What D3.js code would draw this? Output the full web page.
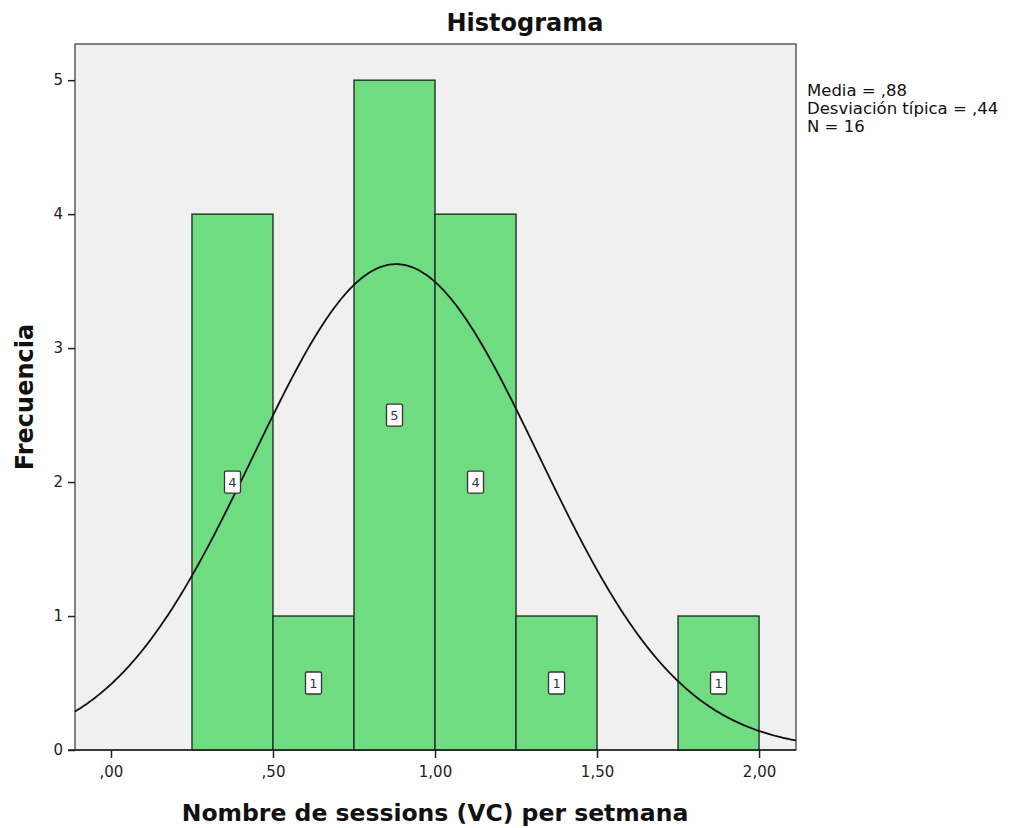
<!DOCTYPE html>
<html>
<head>
<meta charset="utf-8">
<script src="https://cdn.jsdelivr.net/npm/d3@7"></script>
<style>
  body { margin: 0; background: #fff; }
  text { font-family: "DejaVu Sans", sans-serif; }
</style>
</head>
<body>
<div class="canvas"></div>
<script>
// histogram bins (lower edge, upper edge) and counts
const binStarts = [0.25, 0.50, 0.75, 1.00, 1.25, 1.50, 1.75];
const binWidth = 0.25;
const counts = [4, 1, 5, 4, 1, 0, 1];
const xTicks = [0, 0.5, 1.0, 1.5, 2.0];
const xTickLabels = [',00', ',50', '1,00', '1,50', '2,00'];
const yTicks = [0, 1, 2, 3, 4, 5];
const stats = ['Media = ,88', 'Desviación típica = ,44', 'N = 16'];
const mean = 0.88, sd = 0.44, n = 16;

const svg = d3.select('.canvas')
  .append('svg')
  .attr('width', 1025)
  .attr('height', 828);

const pLeft = 75, pRight = 796, pTop = 44, pBottom = 750;

const x = d3.scaleLinear().domain([-0.111, 2.114]).range([pLeft, pRight]);
const y = d3.scaleLinear().domain([0, 5.27]).range([pBottom, pTop]);

// plot area
svg.append('rect')
  .attr('x', pLeft).attr('y', pTop)
  .attr('width', pRight - pLeft).attr('height', pBottom - pTop)
  .attr('fill', '#f0f0f0')
  .attr('stroke', '#444')
  .attr('stroke-width', 1.3);

const bins = binStarts.map((s, i) => ({ x0: s, x1: s + binWidth, c: counts[i] }))
  .filter(d => d.c > 0);

svg.append('g').selectAll('rect')
  .data(bins)
  .join('rect')
  .attr('x', d => x(d.x0))
  .attr('y', d => y(d.c))
  .attr('width', d => x(d.x1) - x(d.x0))
  .attr('height', d => y(0) - y(d.c))
  .attr('fill', '#70dc82')
  .attr('stroke', '#243026')
  .attr('stroke-width', 1.4);

// normal curve from mean/sd
const pts = d3.range(-0.111, 2.1141, 0.005).map(v => [v,
  n * binWidth / (sd * Math.sqrt(2 * Math.PI)) * Math.exp(-0.5 * ((v - mean) / sd) ** 2)]);
svg.append('path')
  .attr('d', d3.line().x(d => x(d[0])).y(d => y(d[1]))(pts))
  .attr('fill', 'none')
  .attr('stroke', '#111')
  .attr('stroke-width', 1.8);

// value labels
const lab = svg.append('g').selectAll('g')
  .data(bins)
  .join('g')
  .attr('transform', d => `translate(${x((d.x0 + d.x1) / 2)},${y(d.c / 2)})`);
lab.append('rect')
  .attr('x', -8).attr('y', -11).attr('width', 16).attr('height', 22)
  .attr('rx', 1.5)
  .attr('fill', '#fff').attr('stroke', '#333').attr('stroke-width', 1.3);
lab.append('text')
  .attr('text-anchor', 'middle').attr('dy', '0.36em')
  .attr('font-size', 13).attr('fill', '#334')
  .text(d => d.c);

// axes
const yAxis = svg.append('g')
  .attr('transform', `translate(${pLeft},0)`)
  .call(d3.axisLeft(y).tickValues(yTicks).tickSize(7).tickPadding(5).tickFormat(d3.format('d')));
const xAxis = svg.append('g')
  .attr('transform', `translate(0,${pBottom})`)
  .call(d3.axisBottom(x).tickValues(xTicks).tickSize(8).tickPadding(8)
    .tickFormat((d, i) => xTickLabels[i]));
[yAxis, xAxis].forEach(a => {
  a.select('.domain').remove();
  a.selectAll('line').attr('stroke', '#222').attr('stroke-width', 1.5);
  a.selectAll('text').attr('font-size', 15).attr('fill', '#222')
    .attr('font-family', '"DejaVu Sans", sans-serif');
});
svg.append('line')
  .attr('x1', pLeft - 7).attr('x2', pRight)
  .attr('y1', pBottom).attr('y2', pBottom)
  .attr('stroke', '#222').attr('stroke-width', 1.5);

// titles
svg.append('text')
  .attr('x', 525).attr('y', 31)
  .attr('text-anchor', 'middle')
  .attr('font-size', 24).attr('font-weight', 'bold').attr('fill', '#111')
  .text('Histograma');
svg.append('text')
  .attr('x', 435).attr('y', 821)
  .attr('text-anchor', 'middle')
  .attr('font-size', 23.5).attr('font-weight', 'bold').attr('fill', '#111')
  .text('Nombre de sessions (VC) per setmana');
svg.append('text')
  .attr('transform', 'translate(33,397) rotate(-90)')
  .attr('text-anchor', 'middle')
  .attr('font-size', 24).attr('font-weight', 'bold').attr('fill', '#111')
  .text('Frecuencia');

svg.append('g').selectAll('text')
  .data(stats)
  .join('text')
  .attr('x', 807)
  .attr('y', (d, i) => 96 + i * 18)
  .attr('font-size', 16.5).attr('fill', '#111')
  .text(d => d);
</script>
</body>
</html>
